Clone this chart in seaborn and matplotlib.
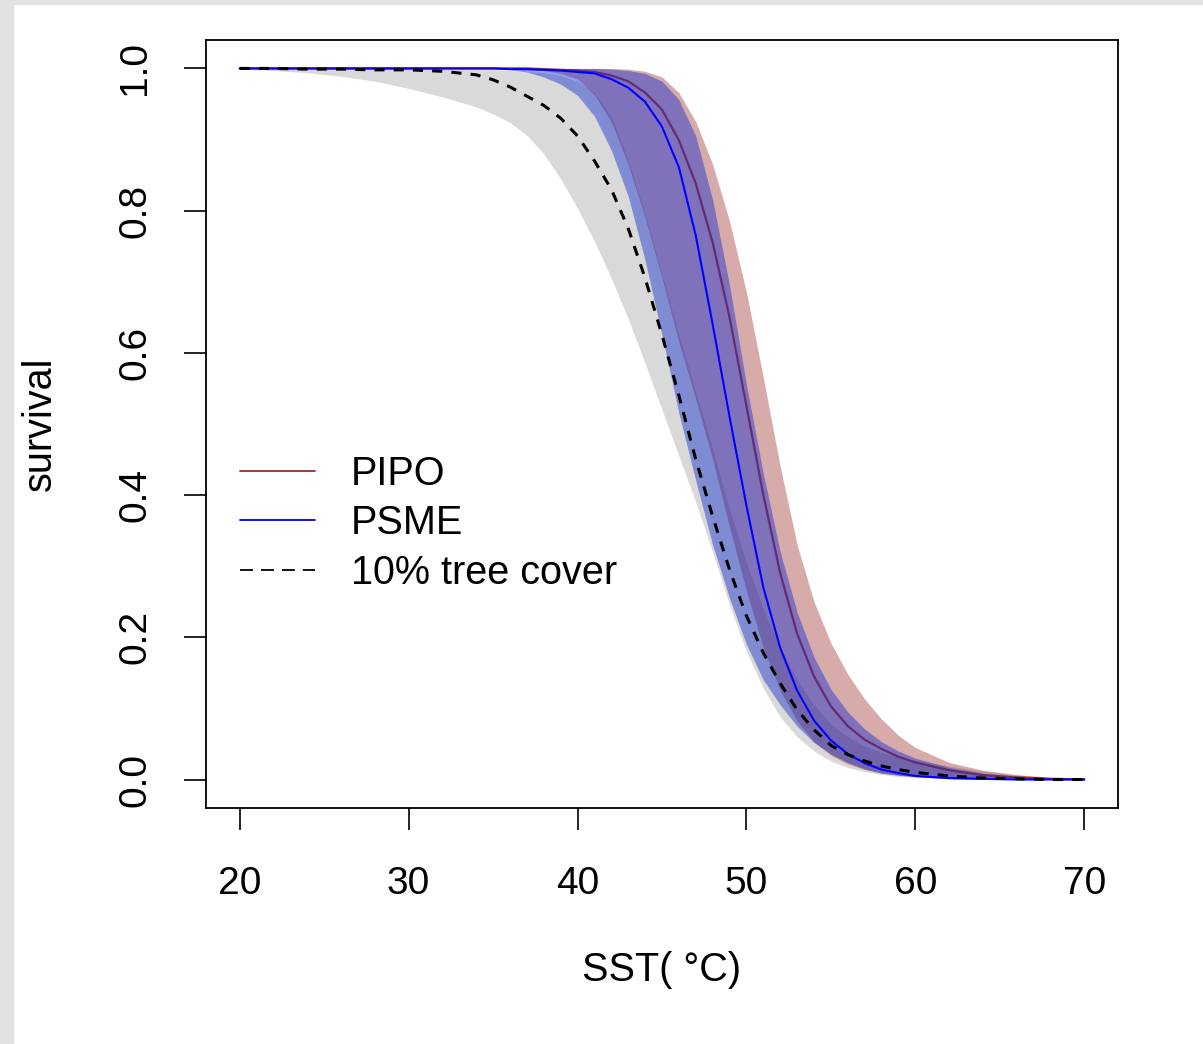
import matplotlib
matplotlib.use("Agg")
import pandas as pd
import matplotlib.pyplot as plt
import seaborn as sns
from matplotlib.lines import Line2D
from matplotlib.patches import Rectangle

# =========================================
# DATA
# =========================================

sst = [20, 22, 24, 26, 28, 30, 32, 34, 35, 36, 37, 38, 39, 40, 41, 42, 43, 44,
       45, 46, 47, 48, 49, 50, 51, 52, 53, 54, 55, 56, 57, 58, 59, 60, 62, 64,
       66, 68, 70]

# PIPO: fitted curve and interval
pipo_mid = [1.000, 1.000, 1.000, 1.000, 1.000, 1.000, 1.000, 1.000, 1.000, 1.000,
            1.000, 0.999, 0.998, 0.997, 0.995, 0.990, 0.982, 0.966, 0.942, 0.899,
            0.838, 0.755, 0.650, 0.525, 0.400, 0.290, 0.205, 0.145, 0.103, 0.075,
            0.056, 0.043, 0.032, 0.024, 0.013, 0.006, 0.003, 0.001, 0.000]
pipo_lo = [1.000, 1.000, 1.000, 1.000, 1.000, 1.000, 1.000, 1.000, 1.000, 0.999,
           0.998, 0.997, 0.993, 0.985, 0.963, 0.925, 0.865, 0.790, 0.705, 0.615,
           0.535, 0.450, 0.355, 0.265, 0.185, 0.125, 0.082, 0.053, 0.034, 0.022,
           0.014, 0.009, 0.006, 0.004, 0.002, 0.001, 0.000, 0.000, 0.000]
pipo_hi = [1.000, 1.000, 1.000, 1.000, 1.000, 1.000, 1.000, 1.000, 1.000, 1.000,
           1.000, 1.000, 1.000, 1.000, 1.000, 1.000, 0.999, 0.996, 0.988, 0.966,
           0.925, 0.865, 0.785, 0.685, 0.565, 0.440, 0.330, 0.250, 0.192, 0.148,
           0.113, 0.085, 0.062, 0.045, 0.024, 0.013, 0.007, 0.003, 0.000]

# PSME: fitted curve and interval
psme_mid = [1.000, 1.000, 1.000, 1.000, 1.000, 1.000, 1.000, 1.000, 1.000, 0.999,
            0.999, 0.998, 0.997, 0.995, 0.993, 0.985, 0.973, 0.953, 0.918, 0.861,
            0.765, 0.640, 0.510, 0.385, 0.270, 0.185, 0.125, 0.083, 0.055, 0.036,
            0.023, 0.014, 0.009, 0.005, 0.002, 0.001, 0.000, 0.000, 0.000]
psme_lo = [1.000, 1.000, 1.000, 1.000, 1.000, 1.000, 1.000, 1.000, 1.000, 0.998,
           0.995, 0.988, 0.978, 0.962, 0.933, 0.885, 0.820, 0.730, 0.625, 0.515,
           0.420, 0.330, 0.255, 0.190, 0.140, 0.105, 0.075, 0.052, 0.036, 0.024,
           0.015, 0.009, 0.006, 0.004, 0.001, 0.000, 0.000, 0.000, 0.000]
psme_hi = [1.000, 1.000, 1.000, 1.000, 1.000, 1.000, 1.000, 1.000, 1.000, 1.000,
           1.000, 1.000, 1.000, 1.000, 1.000, 0.999, 0.997, 0.993, 0.982, 0.956,
           0.905, 0.815, 0.695, 0.555, 0.430, 0.320, 0.235, 0.172, 0.127, 0.095,
           0.071, 0.053, 0.040, 0.030, 0.017, 0.009, 0.004, 0.001, 0.000]

# 10% tree cover: fitted curve and interval
tree_mid = [1.000, 1.000, 0.999, 0.999, 0.998, 0.998, 0.996, 0.991, 0.984, 0.974,
            0.961, 0.948, 0.930, 0.905, 0.870, 0.830, 0.775, 0.705, 0.625, 0.540,
            0.450, 0.370, 0.295, 0.230, 0.178, 0.135, 0.098, 0.070, 0.048, 0.035,
            0.026, 0.019, 0.014, 0.010, 0.005, 0.002, 0.001, 0.000, 0.000]
tree_lo = [0.999, 0.997, 0.994, 0.989, 0.982, 0.972, 0.960, 0.946, 0.936, 0.924,
           0.906, 0.880, 0.845, 0.803, 0.757, 0.705, 0.648, 0.585, 0.520, 0.455,
           0.390, 0.320, 0.245, 0.180, 0.128, 0.088, 0.060, 0.040, 0.026, 0.017,
           0.011, 0.007, 0.004, 0.003, 0.001, 0.000, 0.000, 0.000, 0.000]
tree_hi = [1.000, 1.000, 1.000, 1.000, 1.000, 1.000, 0.999, 0.998, 0.998, 0.997,
           0.996, 0.994, 0.990, 0.982, 0.966, 0.932, 0.870, 0.795, 0.710, 0.625,
           0.545, 0.465, 0.380, 0.305, 0.240, 0.185, 0.140, 0.105, 0.078, 0.060,
           0.047, 0.038, 0.032, 0.027, 0.019, 0.012, 0.006, 0.002, 0.000]

labels = ["PIPO", "PSME", "10% tree cover"]

df = pd.DataFrame({
    "sst": sst,
    "pipo_mid": pipo_mid, "pipo_lo": pipo_lo, "pipo_hi": pipo_hi,
    "psme_mid": psme_mid, "psme_lo": psme_lo, "psme_hi": psme_hi,
    "tree_mid": tree_mid, "tree_lo": tree_lo, "tree_hi": tree_hi,
})

# =========================================
# STYLE
# =========================================

sns.set_style("ticks", rc={
    "axes.edgecolor": "black",
    "xtick.color": "black",
    "ytick.color": "black",
    "text.color": "black",
    "axes.labelcolor": "black",
})
plt.rcParams["font.family"] = ["Liberation Sans", "DejaVu Sans"]

RED_LINE = "#A52A2A"
RED_BAND = (139 / 255, 0, 0, 0.33)
BLUE_LINE = "#0000FF"
BLUE_BAND = (19 / 255, 46 / 255, 206 / 255, 0.45)
GREY_BAND = "#D9D9D9"

# =========================================
# PLOT
# =========================================

fig = plt.figure(figsize=(12.03, 10.44), dpi=100)
fig.patches.append(Rectangle((0, 0), 0.0105, 1, transform=fig.transFigure,
                             color="#E2E2E2", zorder=0))
fig.patches.append(Rectangle((0, 0.9962), 1, 0.0038, transform=fig.transFigure,
                             color="#E2E2E2", zorder=0))

ax = fig.add_axes([0.1712, 0.2261, 0.7582, 0.7356])

ax.fill_between(df["sst"], df["tree_lo"], df["tree_hi"],
                color=GREY_BAND, lw=0, zorder=1)
ax.fill_between(df["sst"], df["pipo_lo"], df["pipo_hi"],
                color=RED_BAND, lw=0, zorder=2)
sns.lineplot(data=df, x="sst", y="pipo_mid", color=RED_LINE,
             linewidth=1.6, zorder=3, ax=ax)
ax.fill_between(df["sst"], df["psme_lo"], df["psme_hi"],
                color=BLUE_BAND, lw=0, zorder=4)
sns.lineplot(data=df, x="sst", y="psme_mid", color=BLUE_LINE,
             linewidth=1.5, zorder=5, ax=ax)
sns.lineplot(data=df, x="sst", y="tree_mid", color="black",
             linewidth=2.2, linestyle=(0, (3.3, 3.0)), zorder=6, ax=ax)

ax.set_xlim(18, 72)
ax.set_ylim(-0.04, 1.04)
ax.set_xticks([20, 30, 40, 50, 60, 70])
ax.set_yticks([0.0, 0.2, 0.4, 0.6, 0.8, 1.0])
ax.set_yticklabels(["0.0", "0.2", "0.4", "0.6", "0.8", "1.0"])

ax.tick_params(axis="both", length=16, width=1.2, labelsize=28)
ax.tick_params(axis="x", pad=26)
ax.tick_params(axis="y", pad=22, labelrotation=90)
for lab in ax.get_yticklabels():
    lab.set_va("center")

for side in ["left", "right", "top", "bottom"]:
    ax.spines[side].set_visible(True)
    ax.spines[side].set_linewidth(1.3)

ax.set_xlabel("SST( \u00b0C)", fontsize=28.5)
ax.set_ylabel("survival", fontsize=28.5)
ax.xaxis.set_label_coords(0.5, -0.211)
ax.xaxis.label.set_va("center")
ax.yaxis.set_label_coords(-0.182, 0.5)
ax.yaxis.label.set_va("center")

handles = [
    Line2D([], [], color=RED_LINE, lw=1.3),
    Line2D([], [], color=BLUE_LINE, lw=1.3),
    Line2D([], [], color="black", lw=1.3, linestyle=(0, (7.2, 4.4))),
]
ax.legend(handles, labels, loc="upper left", bbox_to_anchor=(0.0373, 0.460),
          frameon=False, fontsize=28.5, handlelength=1.9, handletextpad=0.9,
          labelspacing=0.29, borderpad=0, borderaxespad=0)

fig.savefig("out.png", dpi=100)
plt.close(fig)
